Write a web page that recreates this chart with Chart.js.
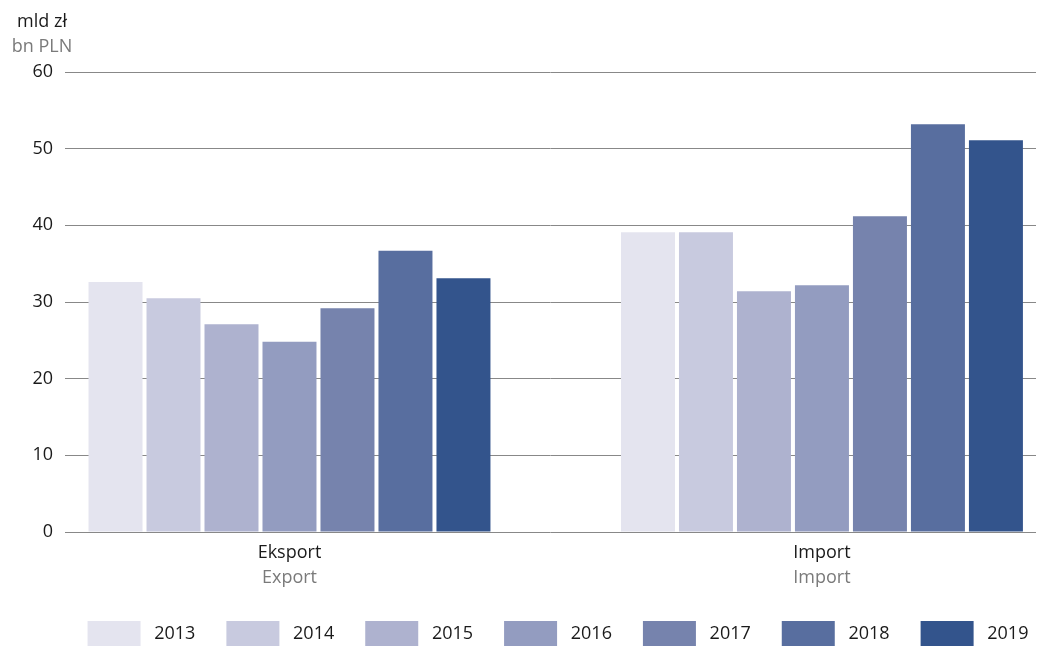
<!DOCTYPE html>
<html>
<head>
<meta charset="utf-8">
<script src="https://cdn.jsdelivr.net/npm/chart.js@4"></script>
<style>
  html, body { margin: 0; padding: 0; background: #fff; }
  #chart { display: block; }
</style>
</head>
<body>
<canvas id="chart" width="1038" height="646"></canvas>
<script>
// data
const categoriesPl = ["Eksport", "Import"];
const categoriesEn = ["Export", "Import"];
const years = ["2013", "2014", "2015", "2016", "2017", "2018", "2019"];
const exportValues = [32.6, 30.5, 27.1, 24.8, 29.2, 36.7, 33.1];
const importValues = [39.1, 39.1, 31.4, 32.2, 41.2, 53.2, 51.1];
const yTicks = [0, 10, 20, 30, 40, 50, 60];
const colors = ["#E4E4EF", "#C8CADF", "#AEB2CF", "#939CC0", "#7683AD", "#586E9F", "#33548C"];

const unitPl = "mld zł";
const unitEn = "bn PLN";

const black = "#1a1a1a";
const gray = "#7a7a7a";
const legendPadding = 31;

Chart.defaults.font.family = "'Open Sans', sans-serif";
Chart.defaults.font.size = 18;
Chart.defaults.color = black;

const datasets = years.map((year, i) => ({
    label: year,
    data: [
        { x: 0, y: exportValues[i] },
        { x: 1, y: importValues[i] }
    ],
    backgroundColor: colors[i],
    borderWidth: 0,
    categoryPercentage: 0.7624,
    barPercentage: 0.931
}));

const categoryTicks = (scale) => {
    scale.ticks = categoriesPl.map((_, i) => ({ value: i }));
};

// unit label above the value axis
const unitLabel = {
    id: "unitLabel",
    afterDraw(chart) {
        const ctx = chart.ctx;
        ctx.save();
        ctx.font = "18px 'Open Sans', sans-serif";
        ctx.textAlign = "center";
        ctx.textBaseline = "middle";
        ctx.fillStyle = black;
        ctx.fillText(unitPl, 42, 22);
        ctx.fillStyle = gray;
        ctx.fillText(unitEn, 42, 47);
        ctx.restore();
    }
};

// nudge the legend row to where it sits in the original
const legendPlace = {
    id: "legendPlace",
    afterLayout(chart) {
        const legend = chart.legend;
        const dx = 40;
        const dy = (621 - legendPadding) - legend.top;
        legend.left += dx;
        legend.right += dx;
        legend.top += dy;
        legend.bottom += dy;
    }
};

new Chart(document.getElementById("chart").getContext("2d"), {
    type: "bar",
    data: { datasets: datasets },
    options: {
        responsive: false,
        animation: false,
        layout: {
            padding: { top: 72, right: 2, bottom: -9, left: 0 }
        },
        scales: {
            x: {
                type: "linear",
                position: "bottom",
                offset: false,
                weight: 0,
                min: -0.4216,
                max: 1.402,
                afterBuildTicks: categoryTicks,
                afterFit: (scale) => { scale.height = 32; },
                grid: { display: false, drawTicks: false },
                border: { display: false },
                ticks: {
                    padding: 10,
                    maxRotation: 0,
                    color: black,
                    callback: (v) => categoriesPl[v]
                }
            },
            x2: {
                type: "linear",
                axis: "x",
                position: "bottom",
                offset: false,
                weight: 1,
                min: -0.4216,
                max: 1.402,
                afterBuildTicks: categoryTicks,
                afterFit: (scale) => { scale.height = 25; },
                grid: { display: false, drawTicks: false },
                border: { display: false },
                ticks: {
                    padding: 3,
                    maxRotation: 0,
                    color: gray,
                    callback: (v) => categoriesEn[v]
                }
            },
            y: {
                min: 0,
                max: 60,
                afterBuildTicks: (scale) => {
                    scale.ticks = yTicks.map((v) => ({ value: v }));
                },
                afterFit: (scale) => { scale.width = 65; },
                grid: { color: "#888", lineWidth: 1, drawTicks: false },
                border: { display: false },
                ticks: { padding: 12, color: black }
            }
        },
        plugins: {
            legend: {
                position: "bottom",
                labels: {
                    boxWidth: 53,
                    boxHeight: 25,
                    padding: legendPadding,
                    color: black,
                    font: { size: 18 },
                    generateLabels: (chart) =>
                        Chart.defaults.plugins.legend.labels.generateLabels(chart)
                            .map((item) => ({ ...item, text: " " + item.text }))
                }
            },
            tooltip: { enabled: false }
        }
    },
    plugins: [unitLabel, legendPlace]
});
</script>
</body>
</html>
